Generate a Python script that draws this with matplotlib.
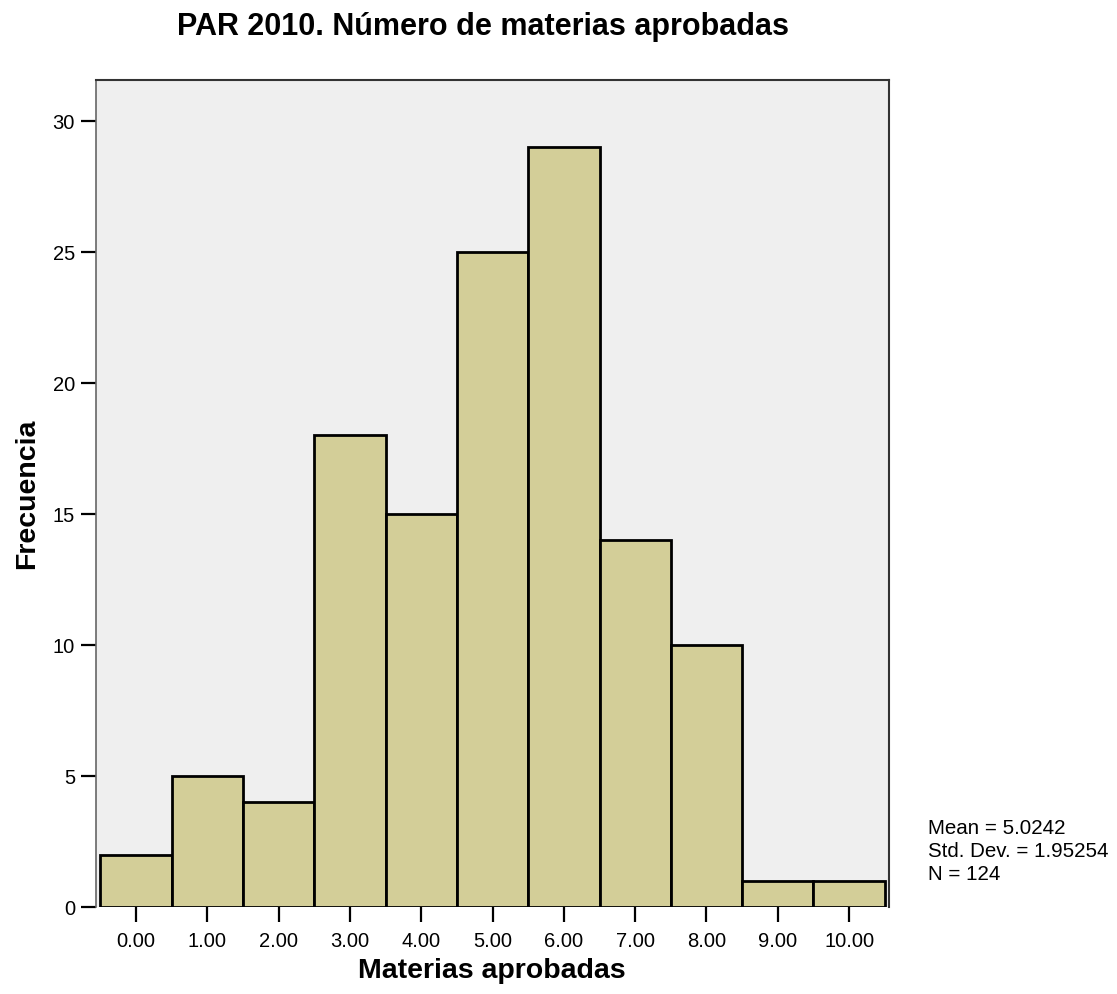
import matplotlib.pyplot as plt
import numpy as np

plt.rcParams['font.family'] = ['Liberation Sans', 'DejaVu Sans']

valores = [0, 1, 2, 3, 4, 5, 6, 7, 8, 9, 10]
frecuencias = [2, 5, 4, 18, 15, 25, 29, 14, 10, 1, 1]
etiquetas = ['0.00', '1.00', '2.00', '3.00', '4.00', '5.00', '6.00', '7.00', '8.00', '9.00', '10.00']
estadisticas = 'Mean = 5.0242\nStd. Dev. = 1.95254\nN = 124'

fig = plt.figure(figsize=(11.17, 9.94), dpi=100)
ax = fig.add_axes([0.0857, 0.0875, 0.710, 0.8323])
ax.set_facecolor('#efefef')

ax.bar(valores, frecuencias, width=1.0, color='#d3ce98', edgecolor='black', linewidth=2, zorder=2)

ax.set_xlim(-0.565, 10.557)
ax.set_ylim(0, 31.58)
ax.set_xticks(valores)
ax.set_xticklabels(etiquetas)
ax.set_yticks([0, 5, 10, 15, 20, 25, 30])
ax.tick_params(axis='both', direction='out', length=11, width=1.6, labelsize=14.5)
ax.tick_params(axis='x', pad=7)
ax.tick_params(axis='y', pad=4)

for s in ['top', 'right']:
    ax.spines[s].set_color('#333333')
    ax.spines[s].set_linewidth(1.5)
ax.spines['left'].set_color('#666666')
ax.spines['left'].set_linewidth(1.2)
ax.spines['bottom'].set_visible(False)

ax.set_xlabel('Materias aprobadas', fontsize=20.5, fontweight='bold', labelpad=5)
ax.set_ylabel('Frecuencia', fontsize=20.5, fontweight='bold', labelpad=9)
fig.text(0.432, 1 - 12 / 994, 'PAR 2010. Número de materias aprobadas', fontsize=22,
         fontweight='bold', ha='center', va='top')

fig.text(0.831, 1 - 819 / 994, estadisticas, fontsize=14.8, va='top', ha='left', linespacing=1.25)

fig.savefig('out.png', dpi=100)
